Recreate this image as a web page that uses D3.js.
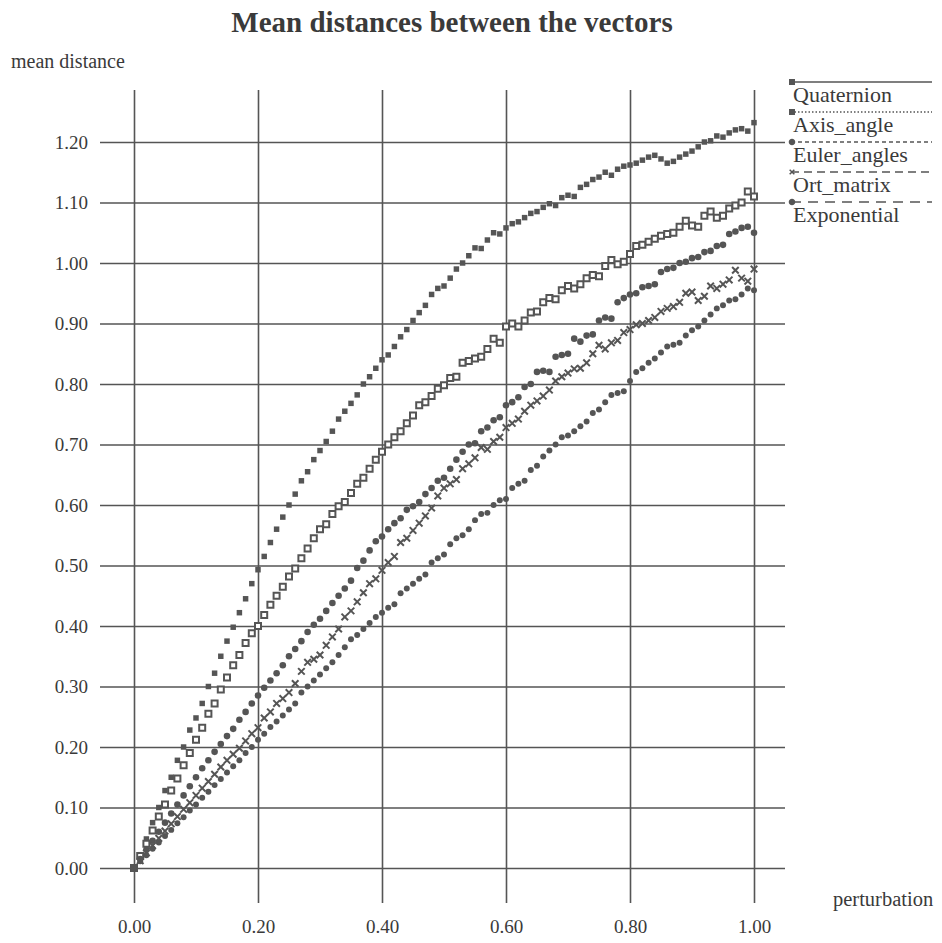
<!DOCTYPE html>
<html>
<head>
<meta charset="utf-8">
<script src="https://cdn.jsdelivr.net/npm/d3@7"></script>
<style>
  body { margin: 0; background: #ffffff; }
  text { font-family: "Liberation Serif", "Times New Roman", serif; fill: #3a3a3a; }
</style>
</head>
<body>
<script>
//perturbation values on the x axis (one per measurement)
var perturbation = [0.00,0.01,0.02,0.03,0.04,0.05,0.06,0.07,0.08,0.09,
  0.10,0.11,0.12,0.13,0.14,0.15,0.16,0.17,0.18,0.19,
  0.20,0.21,0.22,0.23,0.24,0.25,0.26,0.27,0.28,0.29,
  0.30,0.31,0.32,0.33,0.34,0.35,0.36,0.37,0.38,0.39,
  0.40,0.41,0.42,0.43,0.44,0.45,0.46,0.47,0.48,0.49,
  0.50,0.51,0.52,0.53,0.54,0.55,0.56,0.57,0.58,0.59,
  0.60,0.61,0.62,0.63,0.64,0.65,0.66,0.67,0.68,0.69,
  0.70,0.71,0.72,0.73,0.74,0.75,0.76,0.77,0.78,0.79,
  0.80,0.81,0.82,0.83,0.84,0.85,0.86,0.87,0.88,0.89,
  0.90,0.91,0.92,0.93,0.94,0.95,0.96,0.97,0.98,0.99,1.00];

//mean distances
var quaternion = [0.000,0.022,0.048,0.075,0.100,0.128,0.150,0.178,0.200,0.228,
  0.248,0.272,0.300,0.322,0.350,0.375,0.398,0.422,0.445,0.470,
  0.493,0.515,0.538,0.560,0.580,0.600,0.618,0.640,0.655,0.675,
  0.690,0.705,0.722,0.742,0.755,0.768,0.782,0.800,0.812,0.826,
  0.840,0.848,0.862,0.878,0.890,0.905,0.918,0.930,0.948,0.958,
  0.962,0.975,0.990,1.000,1.012,1.025,1.024,1.038,1.050,1.048,
  1.058,1.065,1.068,1.075,1.082,1.085,1.092,1.098,1.095,1.108,
  1.112,1.110,1.125,1.130,1.138,1.142,1.150,1.145,1.155,1.160,
  1.162,1.165,1.170,1.175,1.178,1.172,1.165,1.168,1.175,1.180,
  1.185,1.192,1.200,1.202,1.210,1.208,1.215,1.220,1.222,1.218,1.232];

var axisAngle = [0.000,0.020,0.040,0.062,0.085,0.105,0.128,0.148,0.170,0.190,
  0.212,0.232,0.255,0.272,0.295,0.315,0.335,0.352,0.372,0.388,
  0.400,0.418,0.435,0.450,0.465,0.482,0.495,0.512,0.528,0.545,
  0.560,0.568,0.585,0.598,0.605,0.620,0.635,0.645,0.660,0.675,
  0.688,0.700,0.712,0.722,0.735,0.748,0.765,0.770,0.780,0.792,
  0.798,0.810,0.812,0.835,0.838,0.842,0.845,0.858,0.875,0.868,
  0.895,0.900,0.895,0.905,0.918,0.920,0.935,0.942,0.940,0.955,
  0.962,0.958,0.965,0.975,0.980,0.978,0.995,1.005,0.998,1.002,
  1.015,1.028,1.030,1.035,1.040,1.045,1.048,1.050,1.060,1.070,
  1.062,1.060,1.078,1.085,1.075,1.078,1.090,1.095,1.100,1.118,1.110];

var eulerAngles = [0.000,0.015,0.030,0.045,0.060,0.075,0.090,0.105,0.120,0.135,
  0.150,0.165,0.178,0.192,0.205,0.218,0.230,0.245,0.258,0.272,
  0.285,0.298,0.310,0.322,0.335,0.350,0.362,0.375,0.390,0.402,
  0.412,0.425,0.438,0.450,0.462,0.475,0.496,0.508,0.525,0.540,
  0.548,0.560,0.570,0.578,0.592,0.598,0.605,0.618,0.628,0.640,
  0.645,0.660,0.675,0.688,0.700,0.702,0.722,0.728,0.740,0.745,
  0.765,0.770,0.778,0.795,0.800,0.820,0.822,0.820,0.845,0.848,
  0.850,0.875,0.870,0.880,0.882,0.905,0.910,0.908,0.935,0.942,
  0.948,0.950,0.960,0.962,0.965,0.985,0.990,0.992,1.000,1.002,
  1.008,1.010,1.018,1.020,1.028,1.030,1.048,1.052,1.058,1.060,1.050];

var ortMatrix = [0.000,0.012,0.025,0.037,0.049,0.061,0.073,0.085,0.097,0.108,
  0.120,0.132,0.143,0.155,0.167,0.178,0.188,0.198,0.210,0.222,
  0.232,0.248,0.258,0.272,0.280,0.290,0.305,0.325,0.340,0.345,
  0.352,0.368,0.382,0.395,0.415,0.425,0.440,0.455,0.470,0.478,
  0.492,0.505,0.515,0.538,0.545,0.558,0.570,0.582,0.595,0.615,
  0.628,0.635,0.642,0.660,0.668,0.678,0.695,0.692,0.705,0.712,
  0.728,0.735,0.742,0.755,0.765,0.772,0.780,0.790,0.805,0.812,
  0.818,0.825,0.826,0.835,0.850,0.864,0.858,0.868,0.872,0.885,
  0.890,0.898,0.900,0.905,0.910,0.920,0.925,0.928,0.935,0.950,
  0.952,0.938,0.945,0.962,0.958,0.965,0.972,0.988,0.975,0.970,0.990];

var exponential = [0.000,0.011,0.021,0.032,0.042,0.053,0.063,0.074,0.084,0.095,
  0.105,0.116,0.126,0.137,0.147,0.158,0.168,0.178,0.190,0.200,
  0.212,0.222,0.233,0.242,0.252,0.262,0.272,0.290,0.300,0.310,
  0.320,0.330,0.340,0.352,0.365,0.378,0.385,0.395,0.405,0.415,
  0.422,0.430,0.436,0.454,0.462,0.470,0.478,0.485,0.505,0.512,
  0.518,0.535,0.545,0.550,0.560,0.575,0.585,0.587,0.600,0.608,
  0.610,0.628,0.635,0.640,0.658,0.665,0.680,0.690,0.700,0.712,
  0.715,0.722,0.730,0.738,0.752,0.758,0.770,0.782,0.785,0.788,
  0.805,0.820,0.826,0.835,0.842,0.852,0.862,0.865,0.868,0.880,
  0.889,0.895,0.905,0.915,0.925,0.930,0.938,0.940,0.948,0.958,0.955];

var seriesNames = ["Quaternion", "Axis_angle", "Euler_angles", "Ort_matrix", "Exponential"];
var xTicks = [0.0, 0.2, 0.4, 0.6, 0.8, 1.0];
var yTicks = [0.0, 0.1, 0.2, 0.3, 0.4, 0.5, 0.6, 0.7, 0.8, 0.9, 1.0, 1.1, 1.2];

window.onload = function(){

    var w = 942, h = 943;
    var ink = "#555555"; //scan grey used for marks and grid

    var svg = d3.select("body")
       .append("svg")
       .attr("width", w)
       .attr("height", h)
       .attr("class", "container");

    //scales (grid overhangs the data box on every side)
    var x = d3.scaleLinear().domain([0, 1]).range([134, 754]);
    var y = d3.scaleLinear().domain([0, 1.2]).range([868, 142]);

    //horizontal grid + y labels
    svg.append("g")
       .attr("class", "yAxis")
       .attr("transform", "translate(100,0)")
       .call(d3.axisLeft(y)
          .tickValues(yTicks)
          .tickSize(-685)
          .tickPadding(12)
          .tickFormat(d3.format(".2f")));

    //vertical grid + x labels
    svg.append("g")
       .attr("class", "xAxis")
       .attr("transform", "translate(0,903)")
       .call(d3.axisBottom(x)
          .tickValues(xTicks)
          .tickSize(-813)
          .tickPadding(17)
          .tickFormat(d3.format(".2f")));

    svg.selectAll(".yAxis .domain, .xAxis .domain").remove();
    svg.selectAll(".tick line")
       .style("stroke", ink)
       .style("stroke-width", 1.6);
    svg.selectAll(".tick text")
       .style("font-family", "Liberation Serif, serif")
       .style("font-size", "19px")
       .style("fill", "#3a3a3a");

    //titles
    svg.append("text")
       .attr("x", 452)
       .attr("y", 32)
       .attr("text-anchor", "middle")
       .style("font-size", "29px")
       .style("font-weight", "bold")
       .text("Mean distances between the vectors");

    svg.append("text")
       .attr("x", 11)
       .attr("y", 68)
       .style("font-size", "20px")
       .text("mean distance");

    svg.append("text")
       .attr("x", 833)
       .attr("y", 906)
       .style("font-size", "20.5px")
       .text("perturbation");

    //marker shapes for each series
    var sq = d3.symbol().type(d3.symbolSquare);
    var markers = [
       {vals: quaternion, shape: sq.size(30)(), fill: ink, stroke: "none"},
       {vals: axisAngle, shape: sq.size(36)(), fill: "#ffffff", stroke: ink},
       {vals: eulerAngles, shape: d3.symbol().type(d3.symbolCircle).size(34)(), fill: ink, stroke: "none"},
       {vals: ortMatrix, shape: d3.symbol().type(d3.symbolTimes).size(30)(), fill: "none", stroke: ink},
       {vals: exponential, shape: d3.symbol().type(d3.symbolCircle).size(28)(), fill: ink, stroke: "none"}
    ];

    markers.forEach(function(m, i){
       svg.append("g")
          .attr("class", "series s" + i)
          .selectAll("path")
          .data(perturbation)
          .enter()
          .append("path")
          .attr("d", m.shape)
          .attr("transform", function(d, j){
             return "translate(" + x(d) + "," + y(m.vals[j]) + ")";
          })
          .style("fill", m.fill)
          .style("stroke", m.stroke)
          .style("stroke-width", 2);
    });

    //legend at top right: line with marker, name below
    var dashes = ["none", "1.5,2", "4,3", "8,5", "10,7"];
    var legend = svg.append("g").attr("class", "legend");

    seriesNames.forEach(function(name, i){
       var ly = 82 + i * 30;
       legend.append("line")
          .attr("x1", 791)
          .attr("x2", 932)
          .attr("y1", ly)
          .attr("y2", ly)
          .style("stroke", ink)
          .style("stroke-width", 1.6)
          .style("stroke-dasharray", dashes[i]);
       legend.append("path")
          .attr("d", i == 3 ? d3.symbol().type(d3.symbolTimes).size(16)() : d3.symbol().type(i < 2 ? d3.symbolSquare : d3.symbolCircle).size(20)())
          .attr("transform", "translate(792," + ly + ")")
          .style("fill", i == 3 ? "none" : ink)
          .style("stroke", ink)
          .style("stroke-width", 1.5);
       legend.append("text")
          .attr("x", 793)
          .attr("y", ly + 20)
          .style("font-size", "22px")
          .text(name);
    });
};
</script>
</body>
</html>
